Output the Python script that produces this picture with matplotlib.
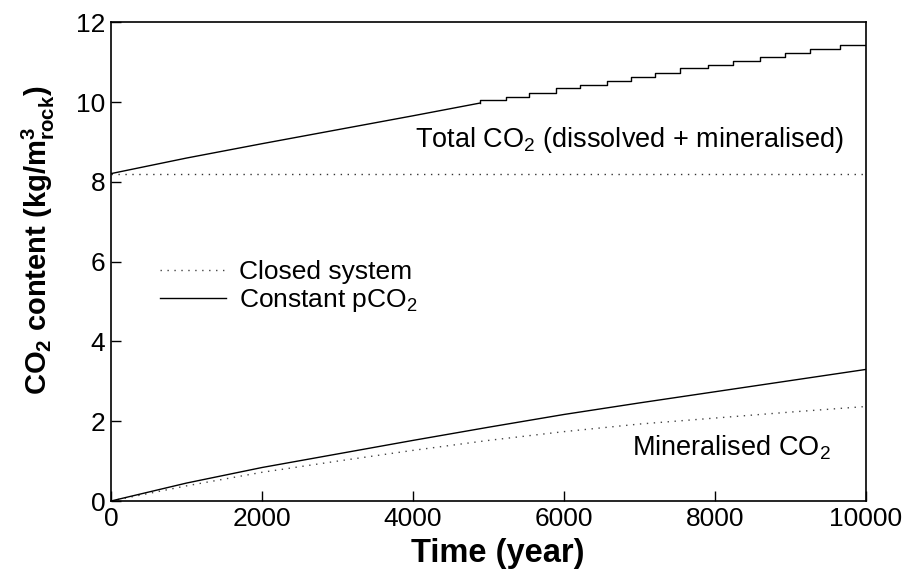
import matplotlib
matplotlib.use('Agg')
import matplotlib.pyplot as plt
import numpy as np

# smooth part of total CO2 (constant pCO2), before the stair steps
total_t = [0, 1000, 2000, 3000, 4000, 4890]
total_v = [8.21, 8.60, 8.96, 9.31, 9.66, 9.98]
# stair-step part of total CO2 (constant pCO2)
step_t = [4890, 5230, 5530, 5890, 6210, 6570, 6890, 7210, 7530, 7910,
          8240, 8600, 8930, 9260, 9660, 10000]
step_v = [10.06, 10.14, 10.23, 10.35, 10.43, 10.54, 10.64, 10.73, 10.85, 10.93,
          11.04, 11.13, 11.23, 11.34, 11.44, 11.44]
# total CO2, closed system
closed_total_t = [0, 10000]
closed_total_v = [8.20, 8.20]

# mineralised CO2
t = [0, 1000, 2000, 3000, 4000, 5000, 6000, 7000, 8000, 9000, 10000]
mineral_const = [0, 0.45, 0.84, 1.18, 1.52, 1.85, 2.17, 2.46, 2.74, 3.02, 3.30]
mineral_closed = [0, 0.38, 0.72, 1.00, 1.27, 1.52, 1.74, 1.93, 2.08, 2.23, 2.37]

plt.rcParams['font.family'] = ['Liberation Sans', 'DejaVu Sans']
plt.rcParams['mathtext.fontset'] = 'custom'
plt.rcParams['mathtext.rm'] = 'Liberation Sans'
plt.rcParams['mathtext.it'] = 'Liberation Sans:italic'
plt.rcParams['mathtext.bf'] = 'Liberation Sans:bold'

fig = plt.figure(figsize=(9.04, 5.76), dpi=100)
ax = fig.add_axes([0.1228, 0.1302, 0.8352, 0.8308])

dot = (0, (1, 4))
sty = dict(color='black', lw=1.0)

ax.plot(closed_total_t, closed_total_v, linestyle=dot, color='#333333', lw=1.0)
ax.plot(total_t, total_v, **sty)
ax.step(np.r_[total_t[-1], step_t], np.r_[total_v[-1], step_v], where='post', **sty)

ax.plot(t, mineral_closed, linestyle=dot, color='#444444', lw=1.0, label='Closed system')
ax.plot(t, mineral_const, label='Constant pCO$_2$', **sty)

ax.set_xlim(0, 10000)
ax.set_ylim(0, 12)
ax.set_xticks([0, 2000, 4000, 6000, 8000, 10000])
ax.set_yticks([0, 2, 4, 6, 8, 10, 12])
ax.tick_params(direction='in', length=7, width=1.0, labelsize=19, pad=4,
               top=False, right=False)
for s in ax.spines.values():
    s.set_linewidth(1.2)

ax.set_xlabel('Time (year)', fontsize=23.5, fontweight='bold')
ax.xaxis.set_label_coords(0.512, -0.078)
ax.set_ylabel(r'CO$_\mathbf{2}$ content (kg/m$^\mathbf{3}_\mathbf{rock}$)',
              fontsize=21, fontweight='bold')
ax.yaxis.set_label_coords(-0.072, 0.545)

ax.text(4030, 9.05, 'Total CO$_2$ (dissolved + mineralised)', fontsize=19.5,
        ha='left', va='center')
ax.text(6900, 1.34, 'Mineralised CO$_2$', fontsize=19.5, ha='left', va='center')

ax.legend(loc='upper left', bbox_to_anchor=(0.0506, 0.525), frameon=False,
          fontsize=19, handlelength=2.5, handletextpad=0.5, labelspacing=0.1,
          borderaxespad=0)

fig.savefig('out.png', dpi=100)
